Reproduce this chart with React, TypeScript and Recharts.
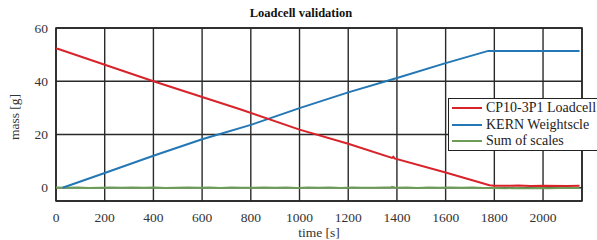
import { CartesianGrid, Line, LineChart, ReferenceArea, XAxis, YAxis } from "recharts";

const timeTicks = [0, 200, 400, 600, 800, 1000, 1200, 1400, 1600, 1800, 2000];
const massTicks = [0, 20, 40, 60];

const loadcellTime = [0, 10, 400, 756, 1000, 1200, 1380, 1385, 1390, 1600, 1780, 1800, 1900, 1950, 2000, 2100, 2150];
const loadcellMass = [52.3, 52.1, 40, 29.5, 21.8, 16.5, 11.2, 11.6, 11.0, 5.7, 0.9, 0.7, 0.8, 0.6, 0.7, 0.6, 0.7];

const kernTime = [27, 200, 400, 600, 800, 1000, 1200, 1400, 1600, 1775, 1800, 2000, 2150];
const kernMass = [0, 5.5, 12, 18.2, 23.6, 29.9, 35.8, 41.2, 46.8, 51.4, 51.4, 51.4, 51.4];

const sumTime = [
  0, 45, 90, 135, 180, 225, 270, 315, 360, 405, 450, 495, 540, 585, 630, 675, 720, 765, 810, 855, 900, 945, 990,
  1035, 1080, 1125, 1170, 1215, 1260, 1305, 1350, 1375, 1380, 1395, 1440, 1485, 1530, 1575, 1620, 1665, 1710, 1755,
  1800, 1845, 1890, 1935, 1980, 2025, 2070, 2115, 2150
];
const sumMass = [
  0.05, -0.05, 0.08, -0.08, 0.0, 0.06, -0.06, 0.04, -0.05, 0.08, -0.07, 0.02, 0.1, -0.04, 0.05, -0.08, 0.08, 0.0,
  -0.06, 0.06, -0.02, 0.08, -0.08, 0.05, -0.04, 0.06, -0.08, 0.04, 0.0, -0.06, 0.08, 0.04, 0.3, -0.04, 0.04, -0.08,
  0.06, -0.04, 0.08, -0.06, 0.04, -0.08, -0.1, -0.2, -0.12, -0.18, -0.14, -0.2, -0.12, -0.16, -0.16
];

const seriesNames = ["CP10-3P1 Loadcell", "KERN Weightscle", "Sum of scales"];
const seriesColors = ["#d8232a", "#2277b4", "#6c9c55"];

const loadcellData = loadcellTime.map((t, i) => ({ t, m: loadcellMass[i] }));
const kernData = kernTime.map((t, i) => ({ t, m: kernMass[i] }));
const sumData = sumTime.map((t, i) => ({ t, m: sumMass[i] }));

const serif = "'Liberation Serif', 'Times New Roman', serif";
const textStyle = { fontFamily: serif, fontSize: 13.5 };

function TimeTick(props: any) {
  const { x, y, payload } = props;
  return (
    <text x={x} y={y + 13} textAnchor="middle" fill="#333" style={textStyle}>
      {payload.value}
    </text>
  );
}

function MassTick(props: any) {
  const { x, y, payload } = props;
  return (
    <text x={x} y={y + 4.5} textAnchor="end" fill="#333" style={textStyle}>
      {payload.value}
    </text>
  );
}

export default function App() {
  return (
    <div style={{ position: "absolute", left: 0, top: 0, width: 597, height: 240, background: "#fff", fontFamily: serif }}>
      <div
        style={{
          position: "absolute",
          top: 6,
          left: 0,
          width: 602,
          textAlign: "center",
          fontWeight: "bold",
          fontSize: 12.5,
          color: "#111"
        }}
      >
        Loadcell validation
      </div>
      <LineChart width={597} height={240} margin={{ top: 28, right: 15, left: 16, bottom: 14 }} style={{ fontFamily: serif }}>
        <CartesianGrid stroke="#2a2a2a" strokeWidth={1.4} />
        <XAxis
          dataKey="t"
          type="number"
          domain={[0, 2160]}
          ticks={timeTicks}
          allowDataOverflow
          height={25}
          tickLine={false}
          axisLine={false}
          tick={<TimeTick />}
          label={{ value: "time [s]", position: "insideBottom", offset: -11, fill: "#333", style: textStyle }}
        />
        <YAxis
          type="number"
          domain={[-5, 60]}
          ticks={massTicks}
          allowDataOverflow
          width={40}
          tickLine={false}
          axisLine={false}
          tick={<MassTick />}
        />
        <ReferenceArea x1={0} x2={2160} y1={-5} y2={60} fill="none" stroke="#222" strokeWidth={1.5} fillOpacity={0} />
        <Line data={sumData} dataKey="m" stroke={seriesColors[2]} strokeWidth={2} dot={false} isAnimationActive={false} />
        <Line data={kernData} dataKey="m" stroke={seriesColors[1]} strokeWidth={2} dot={false} isAnimationActive={false} />
        <Line data={loadcellData} dataKey="m" stroke={seriesColors[0]} strokeWidth={2} dot={false} isAnimationActive={false} />
      </LineChart>
      <div
        style={{
          position: "absolute",
          left: 15,
          top: 117,
          transform: "translate(-50%, -50%) rotate(-90deg)",
          whiteSpace: "nowrap",
          fontSize: 13.5,
          color: "#333",
          lineHeight: 1
        }}
      >
        mass [g]
      </div>
      <div
        style={{
          position: "absolute",
          left: 448,
          top: 98,
          width: 149,
          height: 53,
          border: "1px solid #222",
          borderRight: "none",
          background: "#fff",
          boxSizing: "border-box",
          paddingTop: 1,
          whiteSpace: "nowrap"
        }}
      >
        {seriesNames.map((name, i) => (
          <div key={name} style={{ display: "flex", alignItems: "center", height: 16.5, fontSize: 14, color: "#222" }}>
            <span style={{ display: "inline-block", width: 30, height: 2, background: seriesColors[i], marginLeft: 3, marginRight: 4 }} />
            <span>{name}</span>
          </div>
        ))}
      </div>
    </div>
  );
}
